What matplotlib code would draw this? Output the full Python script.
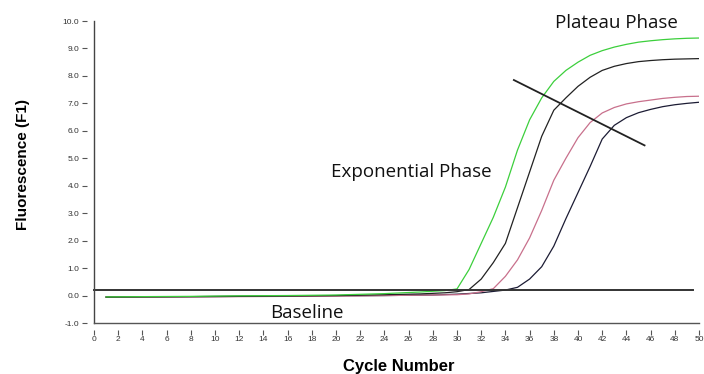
import matplotlib
matplotlib.use('Agg')
import matplotlib.pyplot as plt
import numpy as np

# amplification curves (cycle, fluorescence)
green_cycles = [1, 4, 8, 12, 16, 20, 24, 27, 29, 30, 31, 32, 33, 34, 35, 36, 37, 38, 39, 40,
                41, 42, 43, 44, 45, 46, 47, 48, 49, 50]
green_vals = [-0.05, -0.04, -0.03, -0.01, 0.0, 0.02, 0.07, 0.13, 0.18, 0.24, 0.95, 1.9, 2.85,
              3.95, 5.3, 6.4, 7.2, 7.8, 8.2, 8.5, 8.75, 8.92, 9.05, 9.15, 9.23, 9.28, 9.32,
              9.35, 9.37, 9.38]

black1_cycles = [1, 4, 8, 12, 16, 20, 24, 27, 29, 30, 31, 32, 33, 34, 35, 36, 37, 38, 39, 40,
                 41, 42, 43, 44, 45, 46, 47, 48, 49, 50]
black1_vals = [-0.06, -0.05, -0.04, -0.03, -0.02, 0.0, 0.03, 0.06, 0.1, 0.14, 0.22, 0.6, 1.2,
               1.9, 3.2, 4.5, 5.8, 6.75, 7.2, 7.62, 7.95, 8.2, 8.35, 8.45, 8.52, 8.56, 8.59,
               8.61, 8.62, 8.63]

pink_cycles = [1, 4, 8, 12, 16, 20, 24, 28, 30, 31, 32, 33, 34, 35, 36, 37, 38, 39, 40, 41,
               42, 43, 44, 45, 46, 47, 48, 49, 50]
pink_vals = [-0.06, -0.06, -0.05, -0.04, -0.03, -0.02, 0.0, 0.02, 0.03, 0.06, 0.14, 0.25, 0.7,
             1.3, 2.1, 3.1, 4.2, 5.0, 5.75, 6.3, 6.65, 6.85, 6.98, 7.06, 7.12, 7.18, 7.22,
             7.25, 7.26]

black2_cycles = [1, 4, 8, 12, 16, 20, 24, 28, 30, 32, 33, 34, 35, 36, 37, 38, 39, 40, 41, 42,
                 43, 44, 45, 46, 47, 48, 49, 50]
black2_vals = [-0.05, -0.05, -0.04, -0.03, -0.02, -0.01, 0.0, 0.02, 0.05, 0.1, 0.15, 0.2, 0.3,
               0.6, 1.05, 1.8, 2.8, 3.75, 4.7, 5.7, 6.2, 6.48, 6.66, 6.78, 6.88, 6.95, 7.0,
               7.04]

threshold = 0.22
plateau_x = [34.7, 45.5]
plateau_y = [7.85, 5.47]

x_ticks = list(range(0, 51, 2))
y_ticks = [-1.0, 0.0, 1.0, 2.0, 3.0, 4.0, 5.0, 6.0, 7.0, 8.0, 9.0, 10.0]

fig = plt.figure(figsize=(7.04, 3.74), dpi=100)
ax = fig.add_axes([94 / 704, 51 / 374, 605 / 704, 302 / 374])

ax.plot(black2_cycles, black2_vals, color='#1c1c34', lw=0.9)
ax.plot(pink_cycles, pink_vals, color='#c8708c', lw=0.9)
ax.plot(black1_cycles, black1_vals, color='#222222', lw=0.9)
ax.plot(green_cycles, green_vals, color='#3ccf3c', lw=0.9)

ax.plot([0, 49.5], [threshold, threshold], color='#333333', lw=1.4, clip_on=False)
ax.plot(plateau_x, plateau_y, color='#222222', lw=1.3)

ax.set_xlim(0, 50)
ax.set_ylim(-1.0, 10.0)
ax.set_xticks(x_ticks)
ax.set_yticks(y_ticks)
ax.set_yticklabels([f'{v:.1f}' for v in y_ticks])

# detached tick marks: spines pushed out and hidden, axis lines drawn at the limits
for side in ['top', 'right']:
    ax.spines[side].set_visible(False)
ax.spines['left'].set_position(('outward', 5))
ax.spines['bottom'].set_position(('outward', 5))
ax.spines['left'].set_visible(False)
ax.spines['bottom'].set_visible(False)
ax.axvline(0, color='#444444', lw=1.0, clip_on=False)
ax.axhline(-1.0, color='#555555', lw=1.0, clip_on=False)

ax.tick_params(axis='both', direction='out', length=3.5, width=0.8, color='#555555',
               labelsize=6, labelcolor='#333333')
ax.tick_params(axis='x', pad=1)
ax.tick_params(axis='y', pad=2)
for lab in ax.get_xticklabels() + ax.get_yticklabels():
    lab.set_family('Liberation Sans')

txt = dict(family='Open Sans', fontsize=13.5, color='#111111', ha='center', va='center')
ax.text(43.2, 9.93, 'Plateau Phase', clip_on=False, **txt)
ax.text(26.2, 4.5, 'Exponential Phase', **txt)
ax.text(17.6, -0.62, 'Baseline', **txt)

fig.text(23 / 704, 1 - 165 / 374, 'Fluorescence (F1)', rotation=90, ha='center', va='center',
         family='Liberation Sans', fontweight='bold', fontsize=11)
fig.text(399 / 704, 1 - 366 / 374, 'Cycle Number', ha='center', va='center',
         family='Liberation Sans', fontweight='bold', fontsize=12)

fig.savefig('out.png', dpi=100)
